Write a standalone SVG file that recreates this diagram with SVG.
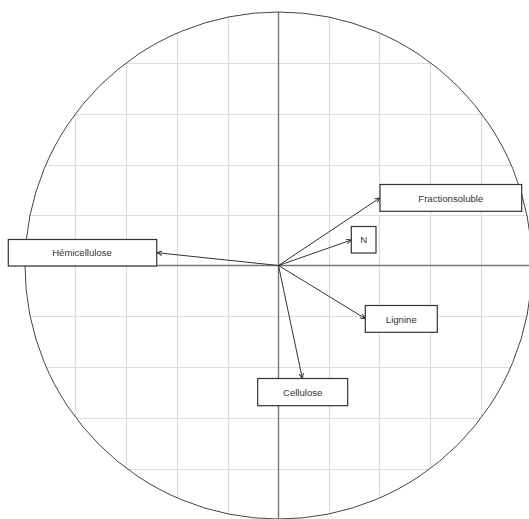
<svg xmlns="http://www.w3.org/2000/svg" width="529" height="519" viewBox="0 0 529 519">
<style>
.grid line{stroke:#dddddd;stroke-width:1.2}
.axis{stroke:#777777;stroke-width:1.4}
.circ{fill:none;stroke:#444444;stroke-width:1}
.box{fill:#ffffff;stroke:#333333;stroke-width:1.2}
.lbl{font-family:"Liberation Sans",Arial,sans-serif;font-size:9.6px;fill:#333333;text-anchor:middle}
.arr{stroke:#333333;stroke-width:1;fill:none;marker-end:url(#ah)}
</style>
<defs>
<clipPath id="cc"><circle cx="278.5" cy="265.5" r="253.5"/></clipPath>
<marker id="ah" markerUnits="userSpaceOnUse" markerWidth="7" markerHeight="6" refX="5" refY="3" orient="auto" viewBox="0 0 7 6">
<path d="M0,0.7 L5,3 L0,5.3" fill="none" stroke="#333333" stroke-width="1"/>
</marker>
</defs>
<rect width="529" height="519" fill="#ffffff"/>
<g class="grid" clip-path="url(#cc)">
<line x1="75.5" y1="0" x2="75.5" y2="519"/>
<line x1="126.5" y1="0" x2="126.5" y2="519"/>
<line x1="177.5" y1="0" x2="177.5" y2="519"/>
<line x1="228.5" y1="0" x2="228.5" y2="519"/>
<line x1="329.5" y1="0" x2="329.5" y2="519"/>
<line x1="379.5" y1="0" x2="379.5" y2="519"/>
<line x1="430.5" y1="0" x2="430.5" y2="519"/>
<line x1="481.5" y1="0" x2="481.5" y2="519"/>
<line x1="0" y1="63.5" x2="529" y2="63.5"/>
<line x1="0" y1="114.5" x2="529" y2="114.5"/>
<line x1="0" y1="165.5" x2="529" y2="165.5"/>
<line x1="0" y1="215.5" x2="529" y2="215.5"/>
<line x1="0" y1="316.5" x2="529" y2="316.5"/>
<line x1="0" y1="367.5" x2="529" y2="367.5"/>
<line x1="0" y1="418.5" x2="529" y2="418.5"/>
<line x1="0" y1="469.5" x2="529" y2="469.5"/>
</g>
<g clip-path="url(#cc)">
<line class="axis" x1="0" y1="265.5" x2="529" y2="265.5"/>
<line class="axis" x1="278.5" y1="0" x2="278.5" y2="519"/>
</g>
<circle class="circ" cx="278.5" cy="265.5" r="253.5"/>
<g id="connectors">
<line class="arr" x1="278.5" y1="265.5" x2="157" y2="252.7"/>
<line class="arr" x1="278.5" y1="265.5" x2="380" y2="197.8"/>
<line class="arr" x1="278.5" y1="265.5" x2="351.3" y2="240"/>
<line class="arr" x1="278.5" y1="265.5" x2="365.3" y2="318.6"/>
<line class="arr" x1="278.5" y1="265.5" x2="302.3" y2="378.3"/>
</g>
<g id="node-hemicellulose">
<rect class="box" x="8.3" y="239.5" width="148.4" height="26.5"/>
<text class="lbl" x="82" y="256.3">Hémicellulose</text>
</g>
<g id="node-fractionsoluble">
<rect class="box" x="380" y="184.5" width="141.7" height="26.8"/>
<text class="lbl" x="450.8" y="201.5">Fractionsoluble</text>
</g>
<g id="node-n">
<rect class="box" x="351.3" y="226.5" width="24.7" height="26.5"/>
<text class="lbl" x="363.7" y="243.4">N</text>
</g>
<g id="node-lignine">
<rect class="box" x="365.3" y="305.5" width="72" height="26.8"/>
<text class="lbl" x="401.3" y="322.5">Lignine</text>
</g>
<g id="node-cellulose">
<rect class="box" x="257.7" y="378.5" width="90" height="27.2"/>
<text class="lbl" x="302.7" y="395.7">Cellulose</text>
</g>
</svg>
